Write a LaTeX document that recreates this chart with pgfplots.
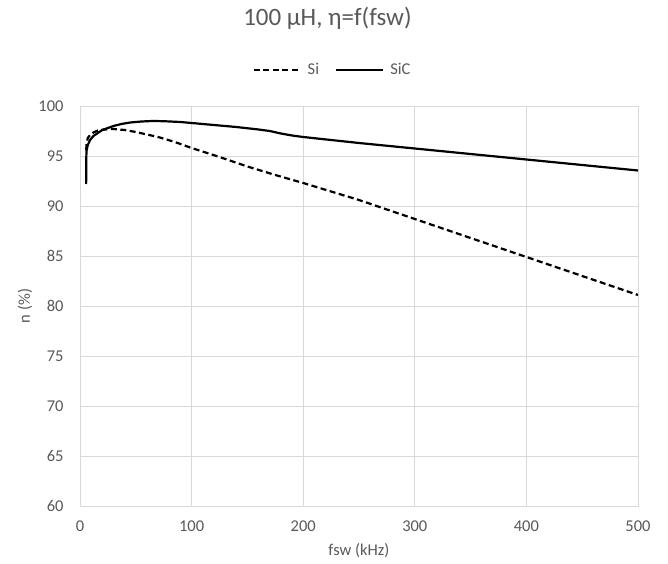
\documentclass[border=0pt]{standalone}
\usepackage{fontspec}
\setmainfont{Carlito}
\usepackage{pgfplots}
\pgfplotsset{compat=1.18}
\definecolor{txt}{HTML}{595959}
\definecolor{grd}{HTML}{D9D9D9}
\definecolor{axl}{HTML}{CFCFCF}
\begin{document}
\begin{tikzpicture}
\path[use as bounding box] (0,0) rectangle (668bp,564bp);
\begin{axis}[
  at={(80bp,58bp)}, anchor=south west,
  scale only axis, width=558bp, height=400bp,
  xmin=0, xmax=500, ymin=60, ymax=100,
  xtick={0,100,...,500}, ytick={60,65,...,100},
  grid=major, major grid style={grd, line width=0.9bp},
  axis line style={grd, line width=0.9bp},
  major tick length=0pt,
  tick label style={font=\fontsize{16.5bp}{19bp}\selectfont, text=txt},
  /pgf/number format/assume math mode=true,
  yticklabel style={xshift=-13bp},
  xticklabel style={yshift=-11bp},
  xlabel={fsw (kHz)}, ylabel={n (\%)},
  label style={font=\fontsize{16.5bp}{19bp}\selectfont, text=txt},
  xlabel style={at={(axis description cs:0.5,0)}, anchor=base, yshift=-49bp},
  ylabel style={at={(axis description cs:-0.0986,0.5)}, anchor=center},
  title={100 µH, η=f(fsw)},
  title style={at={(rel axis cs:0.4435,1.1858)}, anchor=base, font=\fontsize{25bp}{28bp}\selectfont, text=txt},
  legend columns=2,
  legend style={at={(rel axis cs:0.4525,1.09)}, anchor=center, draw=none, fill=none,
    font=\fontsize{16.5bp}{19bp}\selectfont, text=txt,
    /tikz/every odd column/.append style={column sep=4bp},
    /tikz/every even column/.append style={column sep=14bp}},
  legend image code/.code={\draw[#1] (0bp,0bp) -- (47bp,0bp);},
]
\draw[axl, line width=0.9bp] (rel axis cs:0,0) -- (rel axis cs:1,0);
\addplot[black, line width=2.2bp, dash pattern=on 6bp off 3.5bp] coordinates {
(5.5,95.6)(6,96.3)(7,96.8)(9,97.1)(12,97.35)(16,97.55)(22,97.65)(30,97.7)(40,97.6)(50,97.4)(60,97.15)(70,96.9)(85,96.4)(100,95.8)(125,94.9)(150,93.95)(175,93.1)(200,92.3)(250,90.6)(300,88.7)(350,86.8)(400,84.9)(450,83.0)(500,81.1)
};
\addlegendentry{Si}
\addplot[black, line width=2.2bp] coordinates {
(5.5,92.2)(5.6,94.5)(5.8,95.5)(7,96.1)(9,96.6)(12,97.0)(16,97.3)(20,97.6)(25,97.8)(30,98.0)(37,98.2)(45,98.35)(55,98.45)(65,98.5)(75,98.48)(90,98.4)(100,98.3)(120,98.1)(140,97.9)(160,97.65)(170,97.5)(180,97.25)(190,97.05)(200,96.9)(250,96.3)(300,95.75)(350,95.2)(400,94.65)(450,94.1)(500,93.55)
};
\addlegendentry{SiC}
\end{axis}
\end{tikzpicture}
\end{document}
